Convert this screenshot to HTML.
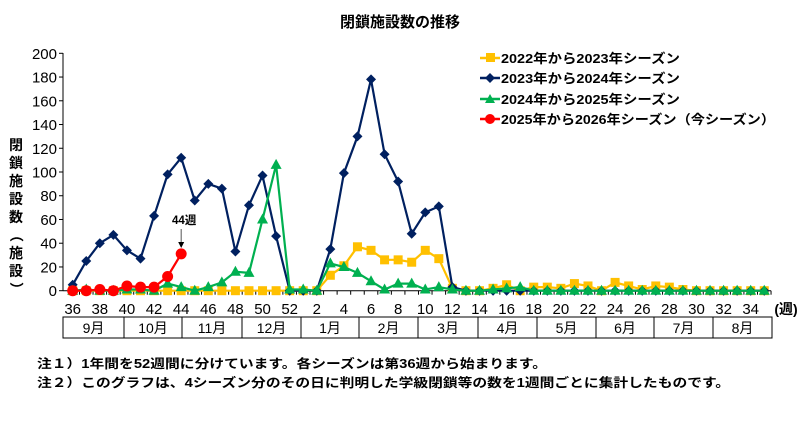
<!DOCTYPE html>
<html><head><meta charset="utf-8">
<style>
html,body{margin:0;padding:0;background:#fff;}
svg{display:block;font-family:"Liberation Sans","Noto Sans CJK JP",sans-serif;}
</style></head>
<body>
<svg id="c" width="800" height="437" viewBox="0 0 800 437" xmlns="http://www.w3.org/2000/svg">
<text x="400" y="27" text-anchor="middle" font-size="15" font-weight="bold">閉鎖施設数の推移</text>
<g font-size="13" font-weight="bold">
<line x1="480" y1="58" x2="500" y2="58" stroke="#FFC000" stroke-width="2.5"/><rect x="486" y="53" width="9" height="9" fill="#FFC000"/>
<text x="501" y="63" textLength="179" lengthAdjust="spacingAndGlyphs">2022年から2023年シーズン</text>
<line x1="480" y1="78" x2="500" y2="78" stroke="#002060" stroke-width="2.5"/><polygon points="490,73 495,78 490,83 485,78" fill="#002060"/>
<text x="501" y="83" textLength="179" lengthAdjust="spacingAndGlyphs">2023年から2024年シーズン</text>
<line x1="480" y1="99" x2="500" y2="99" stroke="#00B050" stroke-width="2.5"/><polygon points="490,94 495,103 485,103" fill="#00B050"/>
<text x="501" y="104" textLength="179" lengthAdjust="spacingAndGlyphs">2024年から2025年シーズン</text>
<line x1="480" y1="119" x2="500" y2="119" stroke="#FF0000" stroke-width="2.5"/><circle cx="490" cy="119" r="5" fill="#FF0000"/>
<text x="501" y="124" textLength="274" lengthAdjust="spacingAndGlyphs">2025年から2026年シーズン（今シーズン）</text>
</g>
<g font-size="14" font-weight="bold" text-anchor="middle">
<text x="16" y="150">閉</text><text x="16" y="168">鎖</text><text x="16" y="186">施</text><text x="16" y="204">設</text><text x="16" y="222">数</text>
<text x="16" y="240" transform="rotate(90 16 235)">（</text>
<text x="16" y="258">施</text><text x="16" y="276">設</text>
<text x="16" y="294" transform="rotate(90 16 289)">）</text>
</g>
<g id="g"></g>
<g font-size="12.5" font-weight="bold">
<text x="37" y="368" textLength="510" lengthAdjust="spacingAndGlyphs">注１）1年間を52週間に分けています。各シーズンは第36週から始まります。</text>
<text x="37" y="387" textLength="693" lengthAdjust="spacingAndGlyphs">注２）このグラフは、4シーズン分のその日に判明した学級閉鎖等の数を1週間ごとに集計したものです。</text>
</g>
</svg>
<script>
(function(){
var g=document.getElementById('g'),h='';
var x0=72.7,dx=13.56,y0=290.7,sy=237.4/200;
function X(i){return x0+i*dx;} function Y(v){return y0-v*sy;}
h+='<line x1="63" y1="53" x2="63" y2="'+y0+'" stroke="#000" stroke-width="1"/>';
h+='<line x1="63" y1="'+y0+'" x2="771" y2="'+y0+'" stroke="#000" stroke-width="1"/>';
for(var v=0;v<=200;v+=20){var y=Y(v);h+='<line x1="59" y1="'+y+'" x2="63" y2="'+y+'" stroke="#000"/>';
h+='<text x="57" y="'+(y+5.5)+'" text-anchor="end" font-size="15">'+v+'</text>';}
var wk=[];for(var w=36;w<=52;w++)wk.push(w);for(w=1;w<=35;w++)wk.push(w);
for(var i=0;i<52;i++){h+='<line x1="'+(X(i)+dx/2)+'" y1="'+y0+'" x2="'+(X(i)+dx/2)+'" y2="'+(y0+4)+'" stroke="#000"/>';
if(wk[i]%2==0)h+='<text x="'+X(i)+'" y="314" text-anchor="middle" font-size="15">'+wk[i]+'</text>';}
h+='<text x="786" y="314" text-anchor="middle" font-size="14" font-weight="bold">(週)</text>';
var mb=[63,124,182,242,301,359,418,478,537,596,654,713,772],mn=['9月','10月','11月','12月','1月','2月','3月','4月','5月','6月','7月','8月'];
h+='<rect x="63" y="317" width="709" height="21" fill="none" stroke="#000"/>';
for(i=0;i<12;i++){if(i>0)h+='<line x1="'+mb[i]+'" y1="317" x2="'+mb[i]+'" y2="338" stroke="#000"/>';
h+='<text x="'+((mb[i]+mb[i+1])/2)+'" y="333" text-anchor="middle" font-size="14">'+mn[i]+'</text>';}
var Z=function(n){var a=[];for(var k=0;k<n;k++)a.push(0);return a;};
var yel=Z(19).concat([13,21,37,34,26,26,24,34,27,2,0,0,2,5,0,3,3,2,6,4,0,7,4,1,4,3,1,0,0,0,0,0,0]);
var nav=[5,25,40,47,34,27,63,98,112,76,90,86,33,72,97,46,0,0,0,35,99,130,178,115,92,48,66,71,3].concat(Z(23));
var grn=[0,1,0,0,1,1,0,6,3,0,3,7,16,15,60,106,1,1,0,23,20,15,8,1,6,6,1,3,1,0,0,1,2,3].concat(Z(18));
var red=[0,0,1,0,4,3,3,12,31];
function line(d,c){var p=d.map(function(v,i){return X(i).toFixed(1)+','+Y(v).toFixed(1)}).join(' ');
return '<polyline points="'+p+'" fill="none" stroke="'+c+'" stroke-width="2.2"/>';}
h+=line(yel,'#FFC000');
yel.forEach(function(v,i){h+='<rect x="'+(X(i)-4.5)+'" y="'+(Y(v)-4.5)+'" width="9" height="9" fill="#FFC000"/>';});
h+=line(nav,'#002060');
nav.forEach(function(v,i){var x=X(i),y=Y(v);h+='<polygon points="'+x+','+(y-5)+' '+(x+5)+','+y+' '+x+','+(y+5)+' '+(x-5)+','+y+'" fill="#002060"/>';});
h+=line(grn,'#00B050');
grn.forEach(function(v,i){var x=X(i),y=Y(v);h+='<polygon points="'+x+','+(y-6)+' '+(x+5.5)+','+(y+4)+' '+(x-5.5)+','+(y+4)+'" fill="#00B050"/>';});
h+=line(red,'#FF0000');
red.forEach(function(v,i){h+='<circle cx="'+X(i)+'" cy="'+Y(v)+'" r="5.5" fill="#FF0000"/>';});
var ax=X(8);
h+='<text x="'+(ax+3)+'" y="224" text-anchor="middle" font-size="11.5" font-weight="bold">44週</text>';
h+='<line x1="'+ax+'" y1="229" x2="'+ax+'" y2="244" stroke="#555" stroke-width="1"/>';
h+='<polygon points="'+(ax-3)+',242 '+(ax+3)+',242 '+ax+',248" fill="#000"/>';
g.innerHTML=h;
})();
</script>
</body></html>
